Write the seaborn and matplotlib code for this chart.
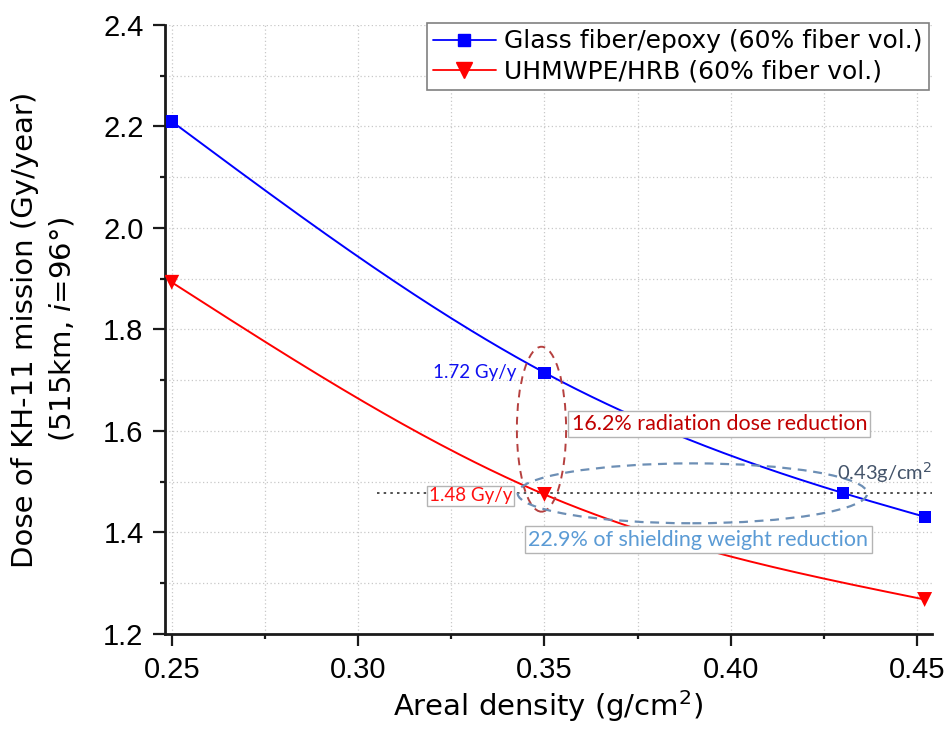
import numpy as np
import pandas as pd
import matplotlib
matplotlib.use("Agg")
import matplotlib.pyplot as plt
import seaborn as sns
from matplotlib.lines import Line2D
from matplotlib.patches import Ellipse
from matplotlib.ticker import MultipleLocator, FormatStrFormatter

# ---------------- data ----------------
glass_x = [0.25, 0.35, 0.43, 0.452]
glass_y = [2.21, 1.715, 1.478, 1.431]
uhmwpe_x = [0.25, 0.35, 0.452]
uhmwpe_y = [1.893, 1.475, 1.268]
series_names = ["Glass fiber/epoxy (60% fiber vol.)", "UHMWPE/HRB (60% fiber vol.)"]
ref_dose = 1.478
xticks = [0.25, 0.30, 0.35, 0.40, 0.45]
yticks = [1.2, 1.4, 1.6, 1.8, 2.0, 2.2, 2.4]


def natural_spline(x, y, n=200):
    x = np.asarray(x, float)
    y = np.asarray(y, float)
    k = len(x)
    h = np.diff(x)
    A = np.zeros((k, k))
    b = np.zeros(k)
    A[0, 0] = 1
    A[-1, -1] = 1
    for i in range(1, k - 1):
        A[i, i - 1] = h[i - 1]
        A[i, i] = 2 * (h[i - 1] + h[i])
        A[i, i + 1] = h[i]
        b[i] = 6 * ((y[i + 1] - y[i]) / h[i] - (y[i] - y[i - 1]) / h[i - 1])
    M = np.linalg.solve(A, b)
    xs = np.linspace(x[0], x[-1], n)
    ys = np.empty_like(xs)
    for j, t in enumerate(xs):
        i = min(np.searchsorted(x, t, side="right") - 1, k - 2)
        dx1 = x[i + 1] - t
        dx0 = t - x[i]
        ys[j] = (M[i] * dx1 ** 3 / (6 * h[i]) + M[i + 1] * dx0 ** 3 / (6 * h[i])
                 + (y[i] / h[i] - M[i] * h[i] / 6) * dx1
                 + (y[i + 1] / h[i] - M[i + 1] * h[i] / 6) * dx0)
    return xs, ys


sns.set_style("ticks")
plt.rcParams["font.family"] = ["Liberation Sans", "DejaVu Sans"]
plt.rcParams["text.color"] = "black"
plt.rcParams["axes.labelcolor"] = "black"
plt.rcParams["xtick.color"] = "black"
plt.rcParams["ytick.color"] = "black"
plt.rcParams["mathtext.fontset"] = "dejavusans"

fig = plt.figure(figsize=(9.49, 7.31), dpi=100)
ax = fig.add_axes([0.1739, 0.1327, 0.9818 - 0.1739, 0.9658 - 0.1327])

# grid
ax.xaxis.set_major_locator(MultipleLocator(0.05))
ax.xaxis.set_minor_locator(MultipleLocator(0.025))
ax.yaxis.set_major_locator(MultipleLocator(0.2))
ax.yaxis.set_minor_locator(MultipleLocator(0.1))
ax.grid(True, which="both", linestyle=(0, (1.0, 2.0)), color="#C8C8C8", linewidth=0.9)
ax.set_axisbelow(True)

# reference dotted line
ax.plot([0.305, 0.4539], [ref_dose, ref_dose], linestyle=(0, (1.5, 2.5)), color="#333333", lw=1.2, zorder=2)

colors = ["#0000FF", "#FF0000"]
markers = ["s", "v"]
for (xv, yv), c, m, sz in zip([(glass_x, glass_y), (uhmwpe_x, uhmwpe_y)], colors, markers, [78, 115]):
    xs, ys = natural_spline(xv, yv)
    sns.lineplot(x=xs, y=ys, ax=ax, color=c, lw=1.4, legend=False, sort=False, zorder=3)
    sns.scatterplot(x=xv, y=yv, ax=ax, color=c, marker=m, s=sz, edgecolor="none", legend=False, zorder=4)

ax.set_xlim(0.2482, 0.4539)
ax.set_ylim(1.2, 2.4)
ax.set_xticks(xticks)
ax.set_yticks(yticks)
ax.xaxis.set_major_formatter(FormatStrFormatter("%.2f"))
ax.yaxis.set_major_formatter(FormatStrFormatter("%.1f"))

for s in ["top", "right"]:
    ax.spines[s].set_visible(False)
for s in ["left", "bottom"]:
    ax.spines[s].set_linewidth(2)
    ax.spines[s].set_color("#1a1a1a")
ax.tick_params(which="major", direction="out", length=8.5, width=1.6, labelsize=21, color="#1a1a1a")
ax.tick_params(axis="y", which="major", pad=7)
ax.tick_params(axis="x", which="major", pad=7)
ax.tick_params(which="minor", direction="out", length=3.8, width=1.6, color="#1a1a1a")

label_font = ["DejaVu Sans"]
ax.set_xlabel("Areal density (g/cm$^2$)", fontsize=21, labelpad=3, family=label_font)
ax.set_ylabel("Dose of KH-11 mission (Gy/year)\n(515km, $\\mathit{i}$=96°)", fontsize=21,
              linespacing=1.4, family=label_font)
ax.yaxis.set_label_coords(-0.115, 0.5)

# ellipses
ax.add_patch(Ellipse((0.3492, 1.6035), 0.0132, 0.325, fill=False, ec="#B5403F",
                     ls=(0, (4, 3)), lw=1.4, zorder=5))
ax.add_patch(Ellipse((0.3897, 1.4772), 0.0938, 0.118, fill=False, ec="#6D8FB5",
                     ls=(0, (4, 3)), lw=1.6, zorder=5))

ann_font = ["Lato", "DejaVu Sans"]
box = dict(boxstyle="square,pad=0.15", fc="white", ec="#B4B4B4", lw=1)
ax.text(0.3425, 1.716, "1.72 Gy/y", color="#1010F0", fontsize=13.5, family=ann_font,
        ha="right", va="center", zorder=6)
ax.text(0.3302, 1.472, "1.48 Gy/y", color="#FF1010", fontsize=13.5, family=ann_font,
        ha="center", va="center", bbox=dict(boxstyle="square,pad=0.1", fc="white", ec="#B4B4B4", lw=1),
        zorder=6)
ax.text(0.3969, 1.6138, "16.2% radiation dose reduction", color="#C00000", fontsize=15.5,
        family=ann_font, ha="center", va="center", bbox=box, zorder=6)
ax.text(0.3913, 1.386, "22.9% of shielding weight reduction", color="#5B9BD5", fontsize=15.5,
        family=ann_font, ha="center", va="center", bbox=box, zorder=6)
ax.text(0.4285, 1.519, "0.43g/cm$^2$", color="#44546A", fontsize=14.5, family=ann_font,
        ha="left", va="center", zorder=6)

handles = [Line2D([], [], color=colors[0], marker="s", markersize=9, lw=1.3),
           Line2D([], [], color=colors[1], marker="v", markersize=11, lw=1.3)]
leg = ax.legend(handles, series_names, loc="upper right", bbox_to_anchor=(0.9965, 1.003),
                frameon=True, fancybox=False, edgecolor="#808080",
                prop={"family": "DejaVu Sans", "size": 18},
                handlelength=2.5, borderpad=0.25, labelspacing=0.25, handletextpad=0.35,
                borderaxespad=0, framealpha=1)
leg.get_frame().set_linewidth(1.2)

fig.savefig("out.png", dpi=100)
